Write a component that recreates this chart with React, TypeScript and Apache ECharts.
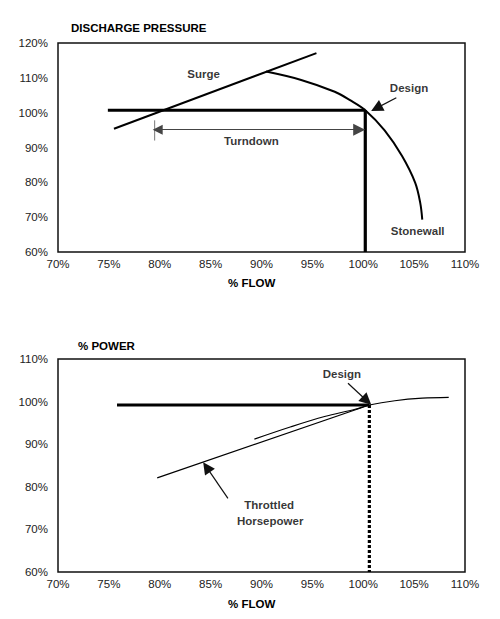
import React, { useEffect, useRef } from "react";
import * as echarts from "echarts";

// ---- data ----
const flowMin = 70;
const flowMax = 110;
const pressureMin = 60;
const pressureMax = 120;
const powerMin = 60;
const powerMax = 110;

// Top chart: discharge pressure vs % flow
const surgeLine = [[75.5, 95.4], [95.4, 117.1]];
const pressureCurve = [
  [90.45, 111.8], [93.9, 109.4], [97.2, 106.0], [98.7, 103.6], [100.2, 100.7],
  [102.1, 94.9], [103.8, 87.6], [105.1, 79.9], [105.6, 74.1], [105.8, 69.3],
];
const pressureDesignH = [[74.9, 100.7], [100.2, 100.7]];
const pressureDesignV = [[100.2, 100.7], [100.2, 60]];
const turndownArrow = [[79.8, 95.1], [99.6, 95.1]];
const turndownTick = [[79.5, 97.8], [79.5, 92.0]];
const pressureDesignArrow = [[103.25, 104.3], [101.3, 101.3]];
const pressureLabels = [
  { text: "Surge", x: 84.3, y: 111.0 },
  { text: "Design", x: 104.5, y: 107.2 },
  { text: "Turndown", x: 89.0, y: 91.9 },
  { text: "Stonewall", x: 105.35, y: 65.9 },
];

// Bottom chart: % power vs % flow
const powerDesignH = [[75.8, 99.2], [100.6, 99.2]];
const powerDesignV = [[100.6, 99.2], [100.6, 60]];
const throttledLine = [[79.75, 82.1], [100.6, 99.2]];
const powerCurve = [
  [89.3, 91.2], [92.9, 94.1], [96.2, 96.5], [99.2, 98.2], [100.6, 99.2],
  [103.1, 100.2], [105.8, 100.8], [108.4, 101.0],
];
const powerDesignArrow = [[98.5, 104.3], [100.35, 100.2]];
const throttledArrow = [[86.7, 77.3], [84.6, 84.6]];
const powerLabels = [
  { text: "Design", x: 97.9, y: 106.4 },
  { text: "Throttled", x: 90.75, y: 75.7 },
  { text: "Horsepower", x: 90.85, y: 72.0 },
];

const FONT = "Arial, 'Liberation Sans', Helvetica, sans-serif";

function lineSeries(data: number[][], idx: number, width: number, extra: any = {}) {
  return {
    type: "line",
    xAxisIndex: idx,
    yAxisIndex: idx,
    data,
    symbol: "none",
    silent: true,
    lineStyle: { color: "#000", width, ...(extra.lineStyle || {}) },
    smooth: extra.smooth || false,
    z: extra.z || 3,
  };
}

function arrowSeries(seg: number[][], idx: number, symbols: string[], color: string, width: number) {
  return {
    type: "lines",
    coordinateSystem: "cartesian2d",
    xAxisIndex: idx,
    yAxisIndex: idx,
    silent: true,
    symbol: symbols,
    symbolSize: [10, 12],
    lineStyle: { color, width, opacity: 1, curveness: 0 },
    data: [{ coords: seg }],
    z: 4,
  };
}

function labelSeries(labels: { text: string; x: number; y: number }[], idx: number) {
  return {
    type: "scatter",
    xAxisIndex: idx,
    yAxisIndex: idx,
    silent: true,
    symbolSize: 1,
    itemStyle: { color: "rgba(0,0,0,0)" },
    data: labels.map((l) => ({ value: [l.x, l.y], name: l.text })),
    label: {
      show: true,
      position: "inside",
      formatter: (p: any) => p.name,
      color: "#000",
      fontFamily: FONT,
      fontWeight: "bold",
      fontSize: 11.5,
    },
    z: 5,
  };
}

function xAxisCfg(gridIndex: number) {
  return {
    type: "value",
    gridIndex,
    min: flowMin,
    max: flowMax,
    interval: 5,
    axisLine: { show: false },
    axisTick: { show: false },
    splitLine: { show: false },
    axisLabel: {
      formatter: (v: number) => v + "%",
      color: "#222",
      fontFamily: FONT,
      fontSize: 11.5,
      margin: 6,
    },
  };
}

function yAxisCfg(gridIndex: number, min: number, max: number) {
  return {
    type: "value",
    gridIndex,
    min,
    max,
    interval: 10,
    axisLine: { show: false },
    axisTick: { show: false },
    splitLine: { show: false },
    axisLabel: {
      formatter: (v: number) => v + "%",
      color: "#222",
      fontFamily: FONT,
      fontSize: 11.5,
      margin: 10,
    },
  };
}

export default function App() {
  const ref = useRef<HTMLDivElement>(null);
  useEffect(() => {
    if (!ref.current) return;
    const chart = echarts.init(ref.current, undefined, { renderer: "svg" });
    const titleStyle = { fontFamily: FONT, fontWeight: "bold", fontSize: 11.5, color: "#000" };
    chart.setOption({
      animation: false,
      backgroundColor: "#fff",
      title: [
        { text: "DISCHARGE PRESSURE", left: 71, top: 22, padding: 0, textStyle: titleStyle },
        { text: "% FLOW", left: 228, top: 277, padding: 0, textStyle: titleStyle },
        { text: "% POWER", left: 78, top: 340, padding: 0, textStyle: titleStyle },
        { text: "% FLOW", left: 228, top: 598, padding: 0, textStyle: titleStyle },
      ],
      grid: [
        { left: 58, right: 35, top: 43, bottom: 367, show: true, borderColor: "#111", borderWidth: 1.5, backgroundColor: "transparent" },
        { left: 58, right: 35, top: 359, bottom: 47, show: true, borderColor: "#111", borderWidth: 1.5, backgroundColor: "transparent" },
      ],
      xAxis: [xAxisCfg(0), xAxisCfg(1)],
      yAxis: [yAxisCfg(0, pressureMin, pressureMax), yAxisCfg(1, powerMin, powerMax)],
      series: [
        // top chart
        lineSeries(surgeLine, 0, 2),
        lineSeries(pressureCurve, 0, 2, { smooth: 0.35 }),
        lineSeries(pressureDesignH, 0, 3.2),
        lineSeries(pressureDesignV, 0, 3.2),
        lineSeries(turndownTick, 0, 1, { lineStyle: { color: "#777" } }),
        arrowSeries(turndownArrow, 0, ["triangle", "triangle"], "#444", 1.2),
        arrowSeries(pressureDesignArrow, 0, ["none", "triangle"], "#111", 1.2),
        labelSeries(pressureLabels, 0),
        // bottom chart
        lineSeries(powerDesignH, 1, 3.2),
        lineSeries(powerDesignV, 1, 3.2, { lineStyle: { type: [3, 2] } }),
        lineSeries(throttledLine, 1, 1.2),
        lineSeries(powerCurve, 1, 1.2, { smooth: 0.35 }),
        arrowSeries(powerDesignArrow, 1, ["none", "triangle"], "#111", 1.2),
        arrowSeries(throttledArrow, 1, ["none", "triangle"], "#111", 1.2),
        labelSeries(powerLabels, 1),
      ],
    });
    return () => chart.dispose();
  }, []);
  return (
    <div
      ref={ref}
      style={{ position: "absolute", left: 0, top: 0, width: 500, height: 619, background: "#fff" }}
    />
  );
}
